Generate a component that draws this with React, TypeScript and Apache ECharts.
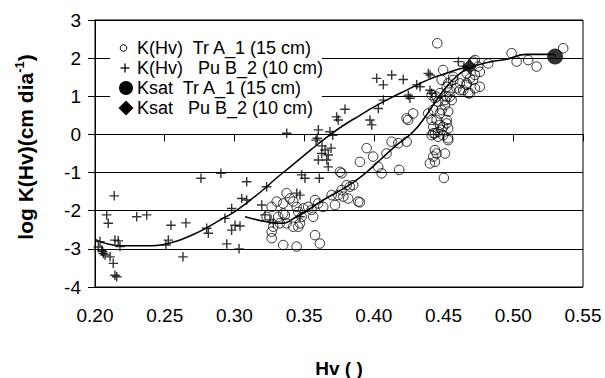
import React, { useEffect, useRef } from 'react';
import * as echarts from 'echarts';

const FONT = 'Liberation Sans, Arial, sans-serif';

// K(Hv) Tr A_1 (15 cm) — open circles [Hv, log K]
const trA1Points: number[][] = [
  [0.4455, 2.39], [0.4988, 2.13], [0.5024, 1.91], [0.5107, 1.95], [0.5167, 1.78], [0.5358, 2.26],
  [0.482, 1.86], [0.4712, 1.91], [0.4748, 1.78], [0.476, 1.64], [0.4725, 1.56], [0.4689, 1.47],
  [0.4665, 1.34], [0.4641, 1.16], [0.4677, 1.08], [0.4725, 1.21], [0.4725, 1.95], [0.476, 1.25],
  [0.4569, 1.51], [0.4497, 1.69], [0.4486, 1.43], [0.4522, 1.25], [0.4545, 0.99], [0.451, 0.9],
  [0.445, 0.99], [0.4426, 0.64], [0.4474, 0.55], [0.4522, 0.38], [0.4497, 0.2], [0.4461, 0.07],
  [0.4426, 0.03], [0.4533, -0.15], [0.4665, 1.6], [0.4712, 1.43], [0.4617, 1.16], [0.4533, 1.34],
  [0.4569, 1.43], [0.4617, 1.34], [0.4593, 1.21], [0.4545, 1.16], [0.4689, 1.08], [0.4665, 1.3],
  [0.4414, 1.03], [0.4438, 0.95], [0.4474, 1.08], [0.4461, 0.86], [0.4522, 0.99], [0.4558, 0.9],
  [0.451, 0.77], [0.4486, 0.64], [0.4533, 0.6], [0.439, 0.55], [0.4235, 0.42], [0.4282, 0.55],
  [0.4246, 0.38], [0.4414, 0.38], [0.445, 0.38], [0.4426, 0.2], [0.4474, 0.25], [0.4522, 0.29],
  [0.4533, 0.16], [0.4486, 0.12], [0.4438, 0.03], [0.4461, -0.06], [0.4497, -0.02], [0.4533, -0.1],
  [0.4414, -0.02], [0.4438, -0.41], [0.445, -0.5], [0.4426, -0.58], [0.4402, -0.76], [0.4438, -0.72],
  [0.451, -0.5], [0.4502, -1.14], [0.4127, -0.19], [0.4175, -0.23], [0.4235, -0.19], [0.3948, -0.36],
  [0.3995, -0.58], [0.4091, -0.5], [0.4031, -0.85], [0.4056, -1.02], [0.4182, -0.93], [0.39, -0.72],
  [0.39, -1.78], [0.3757, -0.98], [0.3769, -1.02], [0.3805, -1.33], [0.3828, -1.37], [0.3697, -1.59],
  [0.3745, -1.59], [0.3781, -1.63], [0.3816, -1.68], [0.3888, -1.76], [0.3721, -1.85], [0.3578, -1.72],
  [0.3601, -1.81], [0.3637, -1.9], [0.3529, -1.9], [0.3554, -1.98], [0.3494, -1.94], [0.3374, -1.54],
  [0.3398, -1.68], [0.3422, -1.76], [0.3446, -1.9], [0.3303, -1.76], [0.3267, -1.9], [0.335, -2.07],
  [0.3314, -2.16], [0.3458, -2.03], [0.3482, -2.16], [0.3458, -2.42], [0.3278, -2.42], [0.3267, -2.55],
  [0.3267, -2.72], [0.3326, -2.33], [0.335, -2.9], [0.3446, -2.94], [0.3578, -2.64], [0.3613, -2.86],
  [0.3769, -1.46], [0.3852, -1.33], [0.3231, -2.16], [0.3565, -2.16], [0.347, -2.33], [0.3422, -2.42],
  [0.3374, -2.33], [0.3362, -2.11], [0.335, -1.81],
];

// K(Hv) Pu B_2 (10 cm) — pluses [Hv, log K]
const puB2Points: number[][] = [
  [0.2138, -1.61], [0.2084, -2.11], [0.2095, -2.33], [0.2299, -2.16], [0.2371, -2.11], [0.2545, -2.38],
  [0.2652, -2.32], [0.276, -1.15], [0.2903, -1.02], [0.2631, -3.21], [0.2526, -2.77], [0.2509, -2.9],
  [0.2143, -2.77], [0.2167, -2.79], [0.2179, -2.94], [0.2036, -2.81], [0.2048, -3.03], [0.206, -3.12],
  [0.2072, -3.16], [0.2108, -3.21], [0.2131, -3.38], [0.2143, -3.69], [0.2156, -3.73], [0.2024, -2.95],
  [0.2055, -3.07], [0.2801, -2.46], [0.2813, -2.59], [0.2932, -2.2], [0.298, -1.94], [0.2945, -2.87],
  [0.3033, -3.0], [0.298, -2.51], [0.3004, -2.38], [0.304, -2.4], [0.3375, 0.03], [0.3088, -1.24],
  [0.3231, -1.37], [0.3052, -1.68], [0.3088, -1.72], [0.3196, -1.85], [0.3255, -2.24], [0.3793, 0.66],
  [0.3733, 0.46], [0.3745, 0.38], [0.3602, 0.12], [0.3594, -0.1], [0.3585, -0.15], [0.3685, 0.07],
  [0.3705, -0.02], [0.365, -0.41], [0.3626, -0.5], [0.3673, -0.54], [0.3662, -0.67], [0.3602, -0.67],
  [0.3673, -0.85], [0.3482, -1.06], [0.3506, -1.15], [0.3609, -1.15], [0.3447, -1.54], [0.347, -1.59],
  [0.3219, -2.11], [0.3279, -2.32], [0.347, -2.16], [0.402, 1.47], [0.4068, 1.3], [0.4128, 1.56],
  [0.4211, 1.44], [0.4307, 1.3], [0.4331, 1.25], [0.4403, 1.56], [0.4247, 1.03], [0.4259, 0.95],
  [0.4403, 1.16], [0.4415, 1.08], [0.4068, 0.9], [0.4032, 0.68], [0.3972, 0.38], [0.3985, 0.25],
  [0.4606, 1.91], [0.439, 1.6], [0.3628, -0.3], [0.3693, -0.36], [0.4646, 1.79],
];

// Saturated conductivity points
const ksatTrA1: number[][] = [[0.53, 2.04]];
const ksatPuB2: number[][] = [[0.4685, 1.78]];

// Fitted curves
const fitPuB2: number[][] = [
  [0.2, -2.75], [0.21, -2.88], [0.22, -2.92], [0.24, -2.92], [0.25, -2.88], [0.26, -2.78],
  [0.27, -2.63], [0.28, -2.45], [0.29, -2.24], [0.3, -2.03], [0.31, -1.76], [0.32, -1.47],
  [0.33, -1.15], [0.34, -0.85], [0.35, -0.55], [0.36, -0.25], [0.37, 0.03], [0.38, 0.28],
  [0.39, 0.5], [0.4, 0.72], [0.41, 0.92], [0.42, 1.1], [0.43, 1.28], [0.44, 1.45], [0.45, 1.58],
  [0.46, 1.7], [0.4685, 1.78],
];
const fitTrA1: number[][] = [
  [0.3076, -2.16], [0.3231, -2.29], [0.3326, -2.33], [0.3446, -2.16], [0.3637, -1.72],
  [0.3805, -1.37], [0.3924, -1.06], [0.4044, -0.67], [0.4163, -0.28], [0.4282, 0.07],
  [0.4378, 0.51], [0.4474, 1.03], [0.4581, 1.48], [0.4689, 1.74], [0.4832, 1.9], [0.4952, 1.97],
  [0.5095, 2.1], [0.5286, 2.1], [0.53, 2.04],
];

const xTickLabels = ['0.20', '0.25', '0.30', '0.35', '0.40', '0.45', '0.50', '0.55'];
const legendLabels = [
  'K(Hv)  Tr A_1 (15 cm)',
  'K(Hv)   Pu B_2 (10 cm)',
  'Ksat  Tr A_1 (15 cm)',
  'Ksat   Pu B_2 (10 cm)',
];

export default function App() {
  const ref = useRef<HTMLDivElement>(null);
  useEffect(() => {
    if (!ref.current) return;
    const chart = echarts.init(ref.current, null, { renderer: 'svg' });
    const black = '#000';
    const rowY = [48, 68, 88, 108];
    chart.setOption({
      animation: false,
      grid: {
        left: 95, right: 22, top: 20, bottom: 91,
        show: true, borderColor: black, borderWidth: 1,
        outerBoundsMode: 'none', containLabel: false,
      },
      xAxis: {
        type: 'value', min: 0.2, max: 0.55, interval: 0.05,
        axisLine: { show: true, lineStyle: { color: black, width: 1 } },
        axisTick: { show: true, length: 7, lineStyle: { color: black } },
        axisLabel: {
          color: black, fontSize: 19, fontFamily: FONT, margin: 19,
          showMinLabel: true, showMaxLabel: true,
          formatter: (v: number) => xTickLabels[Math.round((v - 0.2) / 0.05)] ?? v.toFixed(2),
        },
        splitLine: { show: false },
      },
      yAxis: {
        type: 'value', min: -4, max: 3, interval: 1,
        axisLine: { show: true, lineStyle: { color: black, width: 1 } },
        axisTick: { show: true, length: 7, lineStyle: { color: black } },
        axisLabel: { color: black, fontSize: 19, fontFamily: FONT, margin: 14, showMinLabel: true, showMaxLabel: true },
        splitLine: { show: true, lineStyle: { color: black, width: 1 } },
      },
      series: [
        {
          name: legendLabels[0], type: 'scatter', data: trA1Points, symbol: 'circle', symbolSize: 9.5,
          itemStyle: { color: 'rgba(0,0,0,0)', borderColor: black, borderWidth: 1 }, silent: true, z: 3,
        },
        {
          name: legendLabels[1], type: 'scatter', data: puB2Points,
          symbol: 'path://M0,5L10,5M5,0L5,10', symbolSize: 9.5,
          itemStyle: { color: black, borderColor: black, borderWidth: 1.4 }, silent: true, z: 3,
        },
        {
          type: 'line', data: fitPuB2, smooth: true, showSymbol: false, symbol: 'none',
          lineStyle: { color: black, width: 1.5 }, silent: true, z: 4,
        },
        {
          type: 'line', data: fitTrA1, smooth: true, showSymbol: false, symbol: 'none',
          lineStyle: { color: black, width: 1.6 }, silent: true, z: 4,
        },
        {
          name: legendLabels[2], type: 'scatter', data: ksatTrA1, symbol: 'circle', symbolSize: 16,
          itemStyle: { color: black }, silent: true, z: 5,
        },
        {
          name: legendLabels[3], type: 'scatter', data: ksatPuB2, symbol: 'diamond', symbolSize: 15,
          itemStyle: { color: black }, silent: true, z: 5,
        },
      ],
      graphic: [
        { type: 'rect', z: 100, shape: { x: 110, y: 31, width: 212, height: 93 }, style: { fill: '#fff' } },
        { type: 'circle', z: 101, shape: { cx: 123.5, cy: rowY[0], r: 3.3 }, style: { fill: 'none', stroke: black, lineWidth: 1 } },
        { type: 'line', z: 101, shape: { x1: 120.5, y1: rowY[1], x2: 129.5, y2: rowY[1] }, style: { stroke: black, lineWidth: 1.3 } },
        { type: 'line', z: 101, shape: { x1: 125, y1: rowY[1] - 4.5, x2: 125, y2: rowY[1] + 4.5 }, style: { stroke: black, lineWidth: 1.3 } },
        { type: 'circle', z: 101, shape: { cx: 126, cy: rowY[2], r: 7 }, style: { fill: black } },
        {
          type: 'polygon', z: 101,
          shape: { points: [[126, rowY[3] - 7.5], [133.5, rowY[3]], [126, rowY[3] + 7.5], [118.5, rowY[3]]] },
          style: { fill: black },
        },
        ...legendLabels.map((t, i) => ({
          type: 'text', z: 101, x: 137, y: rowY[i],
          style: { text: t, fontSize: 18, fontFamily: FONT, fill: black, align: 'left', verticalAlign: 'middle' },
        })),
        {
          type: 'text', x: 339, y: 368,
          style: { text: 'Hv ( )', fontSize: 19, fontWeight: 'bold', fontFamily: FONT, fill: black, align: 'center', verticalAlign: 'middle' },
        },
        {
          type: 'text', x: 25, y: 147, rotation: Math.PI / 2,
          style: {
            text: '{a|log K(Hv)(cm dia}{b|-1}{a|)}',
            align: 'center', verticalAlign: 'middle',
            rich: {
              a: { fontSize: 21, fontWeight: 'bold', fontFamily: FONT, fill: black, lineHeight: 24, verticalAlign: 'middle' },
              b: { fontSize: 13, fontWeight: 'bold', fontFamily: FONT, fill: black, verticalAlign: 'top' },
            },
          },
        },
      ],
    });
    return () => chart.dispose();
  }, []);
  return <div ref={ref} style={{ position: 'absolute', left: 0, top: 0, width: 605, height: 378 }} />;
}
